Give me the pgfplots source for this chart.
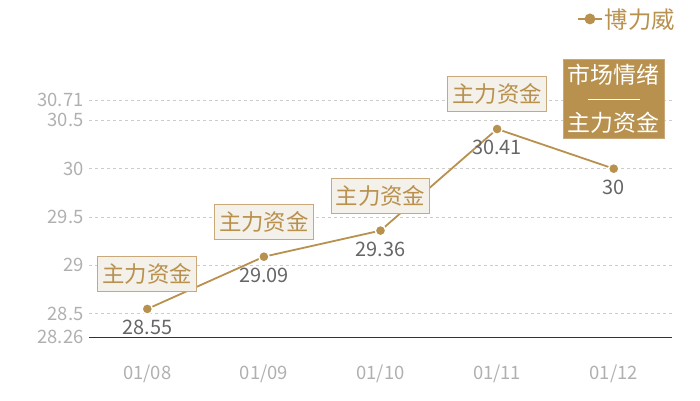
\documentclass[border=0pt]{standalone}
\usepackage{fontspec}
\setmainfont{Noto Sans CJK SC}
\usepackage{pgfplots}
\pgfplotsset{compat=1.18}
\definecolor{gold}{HTML}{B8914F}
\definecolor{boxfill}{HTML}{F4F0EA}
\definecolor{boxline}{HTML}{C9A97A}
\definecolor{ticktxt}{HTML}{B0B0B0}
\definecolor{valtxt}{HTML}{666666}
\definecolor{gridc}{HTML}{CCCCCC}
\begin{document}
\begin{tikzpicture}[x=1bp,y=1bp]
\path[use as bounding box] (0,0) rectangle (700,400);
\begin{axis}[
  at={(89bp,63bp)}, anchor=south west,
  scale only axis, width=583bp, height=237bp,
  xmin=0, xmax=5, ymin=28.26, ymax=30.71,
  axis line style={draw=none},
  major tick length=0pt,
  xtick={0.5,1.5,2.5,3.5,4.5},
  xticklabels={01/08,01/09,01/10,01/11,01/12},
  ytick={28.26,28.5,29,29.5,30,30.5,30.71},
  yticklabels={28.26,28.5,29,29.5,30,30.5,30.71},
  ymajorgrids,
  grid style={gridc, dashed, line width=0.6bp},
  /pgf/number format/assume math mode=true,
  ticklabel style={font=\fontsize{18.5}{21}\selectfont, text=ticktxt},
  xticklabel style={yshift=-24bp},
  yticklabel style={xshift=-2bp},
  clip=false,
  legend image code/.code={
    \draw[gold, line width=1.6bp] (0bp,0bp) -- (24bp,0bp);
    \fill[gold] (12bp,0bp) circle (4.5bp);},
  legend style={draw=none, fill=none, at={(axis description cs:1.014,1.342)},
    anchor=east, font=\fontsize{23.5}{25}\selectfont, text=gold},
]
\draw[black!80, line width=0.8bp] (rel axis cs:0,0) -- (rel axis cs:1,0);
\addplot[gold, line width=1.8bp, mark=*, mark size=5.2bp,
  mark options={fill=gold, draw=white, line width=1.4bp},
  point meta=explicit symbolic,
  nodes near coords,
  every node near coord/.style={anchor=north, yshift=-7bp,
    font=\fontsize{20}{22}\selectfont, text=valtxt}]
  coordinates {
  (0.5,28.55) [28.55]
  (1.5,29.09) [29.09]
  (2.5,29.36) [29.36]
  (3.5,30.41) [30.41]
  (4.5,30.00) [30]
};
\addlegendentry{博力威}
\tikzset{abox/.style={draw=boxline, fill=boxfill, line width=1bp, text=gold,
  font=\fontsize{22.5}{24}\selectfont, inner xsep=4.5bp, inner ysep=0pt,
  minimum height=35bp}}
\node[abox] at (axis cs:0.5,28.55) [yshift=35bp] {主力资金};
\node[abox] at (axis cs:1.5,29.09) [yshift=35bp] {主力资金};
\node[abox] at (axis cs:2.5,29.36) [yshift=35bp] {主力资金};
\node[abox] at (axis cs:3.5,30.41) [yshift=35bp] {主力资金};
\node[draw=boxline, fill=gold, text=white, line width=1bp,
  font=\fontsize{23}{27}\selectfont, align=center, inner xsep=4.5bp, inner ysep=5bp]
  at (axis cs:4.5,30.00) [yshift=70bp]
  {市场情绪\\[-2bp]\rule[8bp]{52bp}{1.4bp}\\[-4bp]主力资金};
\end{axis}
\end{tikzpicture}
\end{document}
